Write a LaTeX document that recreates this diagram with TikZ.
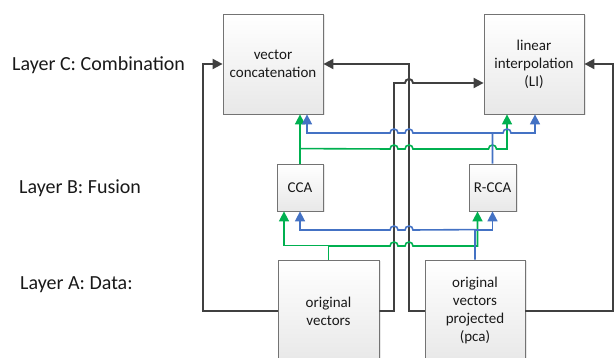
\documentclass[tikz,border=0pt]{standalone}
\usepackage{fontspec}
\setmainfont{Carlito}
\usetikzlibrary{arrows.meta,shadows}
\definecolor{flowgreen}{RGB}{0,176,80}
\definecolor{flowblue}{RGB}{68,114,196}
\definecolor{linkgray}{RGB}{64,64,64}

% line hops over a vertical line at x=#1, height #2
\newcommand{\hopright}[2]{-- (#1-4,#2) arc[start angle=180, end angle=0, radius=4pt]}
\newcommand{\hopleft}[2]{-- (#1+4,#2) arc[start angle=0, end angle=180, radius=4pt]}

\begin{document}
\begin{tikzpicture}[
    x=1pt, y=1pt,
    every node/.style={align=center, font=\fontsize{15}{18}\selectfont, text=black!90},
    block/.style={rectangle, draw=black!55, line width=0.8pt, top color=white, bottom color=black!9,
        drop shadow={opacity=0.18, shadow xshift=1.5pt, shadow yshift=-1.5pt}, inner sep=2pt},
    layer/.style={anchor=base west, inner sep=0pt, font=\fontsize{20}{24}\selectfont},
    arrow/.style={-{Triangle[length=10pt, width=10pt]}},
    link/.style={arrow, draw=linkgray, line width=1.9pt},
    flowg/.style={arrow, draw=flowgreen, line width=1.6pt},
    flowb/.style={arrow, draw=flowblue, line width=1.6pt}
]
\useasboundingbox (0,0) rectangle (616,358);

% Layer labels
\node[layer] (labC) at (12,287) {Layer C: Combination};
\node[layer] (labB) at (19,164) {Layer B: Fusion};
\node[layer] (labA) at (20,68) {Layer A: Data:};

% Layer C
\node[block, minimum width=100pt, minimum height=100pt] (vc) at (273,294) {vector\\concatenation};
\node[block, minimum width=100pt, minimum height=100pt] (li) at (534,294) {linear\\interpolation\\(LI)};

% Layer B
\node[block, minimum width=46pt, minimum height=47pt] (cca) at (300,170.5) {CCA};
\node[block, minimum width=47pt, minimum height=47pt] (rcca) at (492.5,170.5) {R-CCA};

% Layer A
\node[block, minimum width=101pt, minimum height=102pt] (ov) at (328.5,47) {original\\vectors};
\node[block, minimum width=100pt, minimum height=102pt] (ovp) at (475,47) {original\\vectors\\projected\\(pca)};

% direct links A -> C
\draw[link] (ov.west) -- (203,47) |- (vc.west);
\draw[link] (ov.east) -- (394,47) -- (394,275) \hopright{409}{275} -- ([yshift=-19pt]li.west);
\draw[link] (ovp.west) -- (409,47) |- (vc.east);
\draw[link] (ovp.east) -- (613,47) |- (li.east);

% A -> B
\draw[flowg] (ov.north) -- ++(0,14) -| ([xshift=-16pt]cca.south);
\draw[flowg] (328.5,112) \hopright{394}{112} \hopright{409}{112} -| ([xshift=-15pt]rcca.south);
\draw[flowb] (ovp.north) -- ++(0,30) \hopleft{409}{128} \hopleft{394}{128} -| (cca.south);
\draw[flowb] (475,128) -| (rcca.south);

% B -> C
\draw[flowg] (cca.north) -- (cca.north |- vc.south);
\draw[flowg] ([yshift=15pt]cca.north) \hopright{394}{209} \hopright{409}{209} \hopright{492.5}{209} -| ([xshift=-27pt]li.south);
\draw[flowb] (rcca.north) -- (492.5,225) \hopleft{409}{225} \hopleft{394}{225} -| ([xshift=34pt]vc.south);
\draw[flowb] (492.5,225) \hopright{507}{225} -| ([xshift=1pt]li.south);

\end{tikzpicture}
\end{document}
